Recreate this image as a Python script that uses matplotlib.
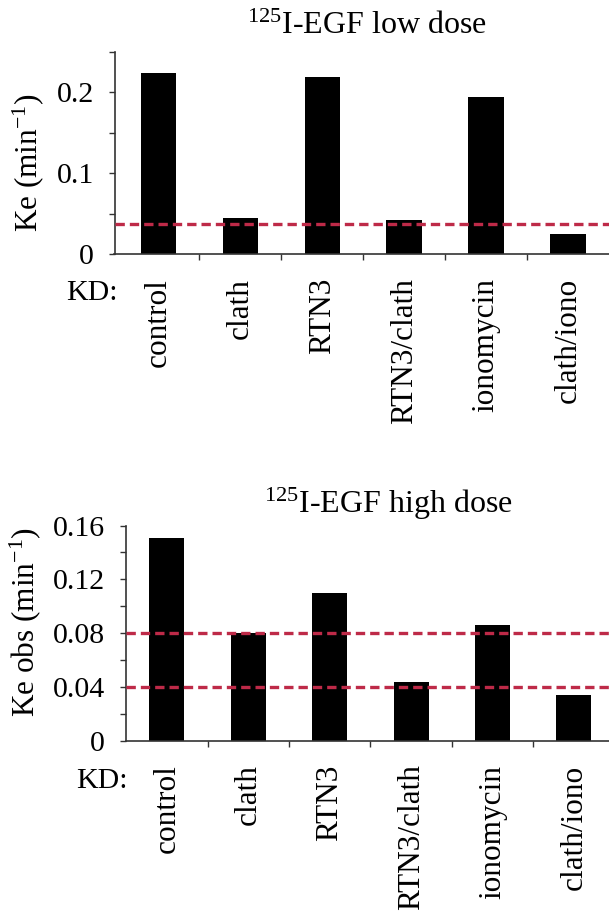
import matplotlib
matplotlib.use("Agg")
import matplotlib.pyplot as plt
from matplotlib.ticker import MultipleLocator, FuncFormatter
from matplotlib.transforms import blended_transform_factory

plt.rcParams["font.family"] = ["Liberation Serif", "DejaVu Serif"]
plt.rcParams["mathtext.fontset"] = "custom"
plt.rcParams["mathtext.rm"] = "Liberation Serif"
plt.rcParams["mathtext.it"] = "Liberation Serif:italic"

# Knock-down conditions
categories = ["control", "clath", "RTN3", "RTN3/clath", "ionomycin", "clath/iono"]

# Endocytic rate constants
low_dose_ke = [0.224, 0.045, 0.219, 0.042, 0.194, 0.025]
high_dose_ke = [0.151, 0.080, 0.110, 0.044, 0.086, 0.034]

# Reference levels (dashed)
low_dose_refs = [0.038]
high_dose_refs = [0.08, 0.04]

low_title = r"$^{125}$I-EGF low dose"
high_title = r"$^{125}$I-EGF high dose"
low_ylabel = r"Ke (min$^{-1}$)"
high_ylabel = r"Ke obs (min$^{-1}$)"

W, H = 609, 921
fig = plt.figure(figsize=(W / 100, H / 100), dpi=100)

REF_COLOR = "#BE2A48"
SPINE_COLOR = "#333333"


def panel(rect, values, refs, ylim, major, minor, xlim, ylabel, ylabel_xy):
    ax = fig.add_axes(rect)
    x = list(range(len(categories)))
    ax.bar(x, values, width=0.43, color="black", zorder=2)
    for r in refs:
        ax.axhline(r, color=REF_COLOR, lw=2.4, dashes=(2.8, 1.5), zorder=3)
    ax.set_xlim(*xlim)
    ax.set_ylim(*ylim)
    ax.spines["top"].set_visible(False)
    ax.spines["right"].set_visible(False)
    for s in ("left", "bottom"):
        ax.spines[s].set_color(SPINE_COLOR)
        ax.spines[s].set_linewidth(1.2)
    ax.yaxis.set_major_locator(MultipleLocator(major))
    ax.yaxis.set_minor_locator(MultipleLocator(minor))
    ax.yaxis.set_major_formatter(
        FuncFormatter(lambda v, p: "0" if abs(v) < 1e-9 else f"{v:g}")
    )
    ax.tick_params(axis="y", which="both", direction="out", length=4, width=1.0,
                   color=SPINE_COLOR, labelsize=21.5, pad=11)
    # category separators on the x axis
    ax.set_xticks([i + 0.5 for i in x[:-1]])
    ax.set_xticklabels([])
    ax.tick_params(axis="x", which="both", direction="out", length=4, width=1.0,
                   color=SPINE_COLOR)
    ax.set_xticks(x, minor=True)
    ax.set_xticklabels(categories, minor=True, rotation=90, fontsize=22.5, va="top",
                       ha="center")
    ax.tick_params(axis="x", which="minor", length=0, pad=17)
    ax.set_ylabel(ylabel, fontsize=22.5)
    ax.yaxis.set_label_coords(
        *ylabel_xy, transform=blended_transform_factory(fig.transFigure, ax.transAxes)
    )
    return ax


ax1 = panel([114.5 / W, 1 - 254.5 / H, 1 - 114.5 / W, (254.5 - 51.7) / H],
            low_dose_ke, low_dose_refs, (0, 0.25), 0.1, 0.05, (-0.534, 5.5),
            low_ylabel, (46 / W, 0.451))
ax2 = panel([125.5 / W, 1 - 741 / H, 1 - 125.5 / W, (741 - 525.5) / H],
            high_dose_ke, high_dose_refs, (0, 0.16), 0.04, 0.02, (-0.507, 5.43),
            high_ylabel, (43 / W, 0.552))

fig.text(367 / W, 1 - 34 / H, low_title, fontsize=23, ha="center", va="baseline")
fig.text(388 / W, 1 - 513 / H, high_title, fontsize=23, ha="center", va="baseline")
fig.text(118 / W, 1 - 300 / H, "KD:", fontsize=21.5, ha="right", va="baseline")
fig.text(128 / W, 1 - 788 / H, "KD:", fontsize=21.5, ha="right", va="baseline")

fig.savefig("out.png", dpi=100)
